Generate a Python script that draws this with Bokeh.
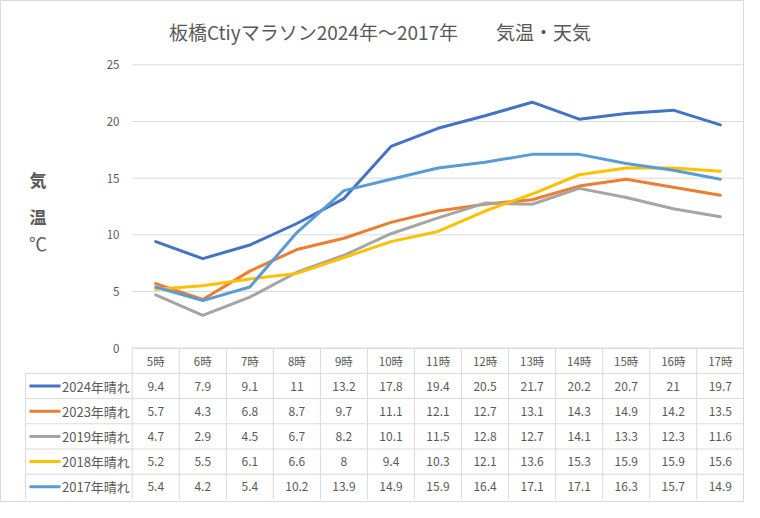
from bokeh.plotting import figure
from bokeh.models import Range1d
from bokeh.core.properties import value
from bokeh.embed import file_html
from bokeh.resources import INLINE

# ---------------- data ----------------
title_text = "板橋Ctiyマラソン2024年～2017年　　気温・天気"
hours = ["5時", "6時", "7時", "8時", "9時", "10時", "11時", "12時",
         "13時", "14時", "15時", "16時", "17時"]
series_names = ["2024年晴れ", "2023年晴れ", "2019年晴れ", "2018年晴れ", "2017年晴れ"]
t2024 = [9.4, 7.9, 9.1, 11, 13.2, 17.8, 19.4, 20.5, 21.7, 20.2, 20.7, 21, 19.7]
t2023 = [5.7, 4.3, 6.8, 8.7, 9.7, 11.1, 12.1, 12.7, 13.1, 14.3, 14.9, 14.2, 13.5]
t2019 = [4.7, 2.9, 4.5, 6.7, 8.2, 10.1, 11.5, 12.8, 12.7, 14.1, 13.3, 12.3, 11.6]
t2018 = [5.2, 5.5, 6.1, 6.6, 8, 9.4, 10.3, 12.1, 13.6, 15.3, 15.9, 15.9, 15.6]
t2017 = [5.4, 4.2, 5.4, 10.2, 13.9, 14.9, 15.9, 16.4, 17.1, 17.1, 16.3, 15.7, 14.9]
y_ticks = [0, 5, 10, 15, 20, 25]
y_title_bold = ["気", "温"]
y_title_unit = ["℃"]

series = [t2024, t2023, t2019, t2018, t2017]
colors = ["#4472C4", "#ED7D31", "#A5A5A5", "#FFC000", "#5B9BD5"]

# ---------------- layout (reference pixel geometry) ----------------
W, H = 744, 502
OFF = 0
COL0, COLW = 131.7, 47.05      # left edge of first table column, column width
Y0, PXU = 347.7, 11.336        # pixel of 0 degC, pixels per degC
ROWH = 25.2                    # table row height
FONT = value("Noto Sans CJK JP")
TXT = "#595959"
GRID = "#D9D9D9"


def cx(px):
    return (px - COL0) / COLW - 0.5


def ty(py):
    return (Y0 - py) / PXU


def ry(py):
    return -(py - Y0) / ROWH


p = figure(width=W, height=H, output_backend="svg", toolbar_location=None,
           x_axis_type=None, y_axis_type=None,
           x_range=Range1d(cx(OFF), cx(OFF + W)),
           y_range=Range1d(ty(OFF + H), ty(OFF)),
           min_border=0)
p.extra_y_ranges = {"table": Range1d(ry(OFF + H), ry(OFF))}
p.outline_line_color = GRID
p.background_fill_color = "white"
p.border_fill_color = "white"

n = len(hours)
xs = list(range(n))
left = -0.5
right = n - 0.5
leg_left = cx(25)

# gridlines
p.segment(x0=[left] * len(y_ticks), x1=[right] * len(y_ticks), y0=y_ticks, y1=y_ticks,
          line_color=GRID, line_width=1)

# y tick labels
p.text(x=[cx(119)] * len(y_ticks), y=y_ticks, text=[str(t) for t in y_ticks],
       text_font=FONT, text_font_size=value("11.5px"), text_color=TXT,
       text_align="right", text_baseline="middle")

# y title (stacked)
p.text(x=[cx(37.5)] * 2, y=[ty(179), ty(215.5)], text=y_title_bold,
       text_font=FONT, text_font_size=value("17px"), text_font_style="bold",
       text_color=TXT, text_align="center", text_baseline="middle")
p.text(x=[cx(37.5)], y=[ty(242)], text=y_title_unit,
       text_font=FONT, text_font_size=value("18px"),
       text_color=TXT, text_align="center", text_baseline="middle")

# title
p.text(x=[cx(379.5)], y=[ty(30.5)], text=[title_text],
       text_font=FONT, text_font_size=value("19px"), text_color=TXT,
       text_align="center", text_baseline="middle")

# table lines
nr = len(series) + 1
p.segment(x0=[left], x1=[right], y0=[0], y1=[0], line_color=GRID, line_width=1,
          y_range_name="table")
p.segment(x0=[leg_left] * (nr - 1), x1=[right] * (nr - 1),
          y0=[-r for r in range(1, nr + 1)], y1=[-r for r in range(1, nr + 1)],
          line_color=GRID, line_width=1, y_range_name="table")
vx = [left + k for k in range(n + 1)]
p.segment(x0=vx, x1=vx, y0=[0] * len(vx), y1=[-nr] * len(vx),
          line_color=GRID, line_width=1, y_range_name="table")
p.segment(x0=[leg_left], x1=[leg_left], y0=[-1], y1=[-nr],
          line_color=GRID, line_width=1, y_range_name="table")

# header
p.text(x=xs, y=[-0.5] * n, text=hours, text_font=FONT, text_font_size=value("11.5px"),
       text_color=TXT, text_align="center", text_baseline="middle", y_range_name="table")

# values + legend
for i, (vals, name, c) in enumerate(zip(series, series_names, colors)):
    yrow = -(i + 1.5)
    p.text(x=xs, y=[yrow] * n, text=[f"{v:g}" for v in vals], text_font=FONT,
           text_font_size=value("12px"), text_color=TXT, text_align="center",
           text_baseline="middle", y_range_name="table")
    p.segment(x0=[cx(29)], x1=[cx(60)], y0=[yrow], y1=[yrow], line_color=c,
              line_width=3, y_range_name="table")
    p.text(x=[cx(61.5)], y=[yrow], text=[name], text_font=FONT,
           text_font_size=value("13px"), text_color=TXT, text_align="left",
           text_baseline="middle", y_range_name="table")

# data lines
for vals, c in zip(series, colors):
    p.line(x=xs, y=vals, line_color=c, line_width=3, line_join="round", line_cap="round")

open("out.html", "w").write(file_html(p, INLINE))
